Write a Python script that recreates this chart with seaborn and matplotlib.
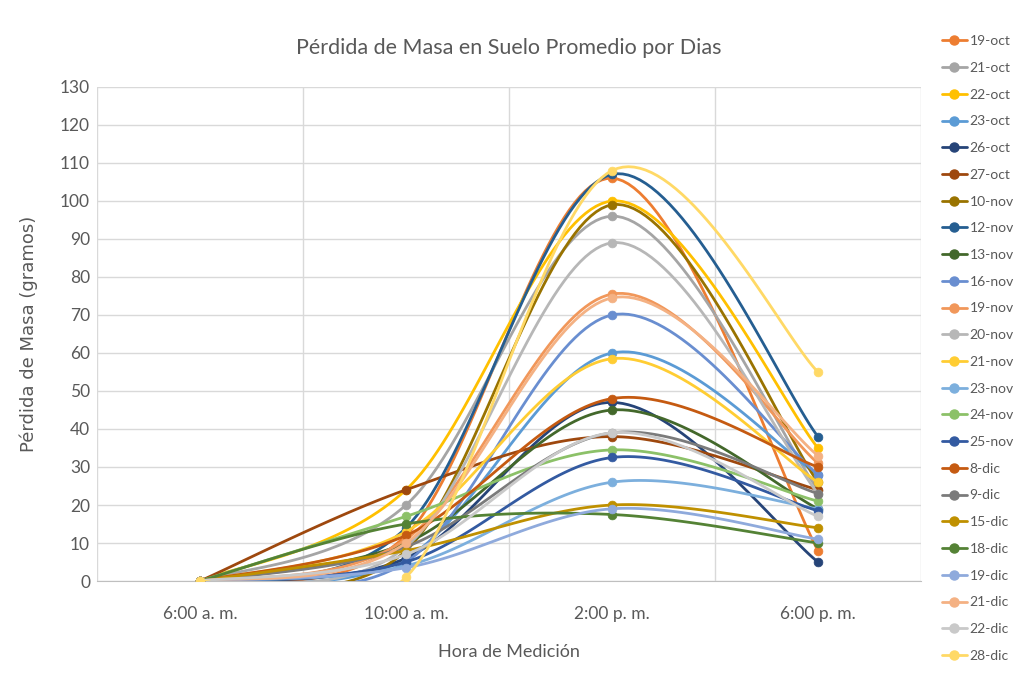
import numpy as np
import pandas as pd
import matplotlib
matplotlib.use("Agg")
import matplotlib.pyplot as plt
from matplotlib.lines import Line2D
import seaborn as sns

# Measurement times (categorical x axis)
horas = ["6:00 a. m.", "10:00 a. m.", "2:00 p. m.", "6:00 p. m."]

# Sampling days (series)
dias = ["19-oct", "21-oct", "22-oct", "23-oct", "26-oct", "27-oct", "10-nov",
        "12-nov", "13-nov", "16-nov", "19-nov", "20-nov", "21-nov", "23-nov",
        "24-nov", "25-nov", "8-dic", "9-dic", "15-dic", "18-dic", "19-dic",
        "21-dic", "22-dic", "28-dic"]

# Average mass loss (g) per day at each measurement time
perdida_19oct = [0, 12, 106, 8]
perdida_21oct = [0, 20, 96, 24]
perdida_22oct = [0, 24, 100, 35]
perdida_23oct = [0, 6, 60, 28]
perdida_26oct = [0, 6, 47, 5]
perdida_27oct = [0, 24, 38, 24]
perdida_10nov = [0, 8, 99, 26]
perdida_12nov = [0, 14, 107, 38]
perdida_13nov = [0, 10, 45, 19]
perdida_16nov = [0, 5, 70, 28]
perdida_19nov = [0, 11, 75.5, 31]
perdida_20nov = [0, 9, 89, 23]
perdida_21nov = [0, 13, 58.5, 26]
perdida_23nov = [0, 4, 26, 19]
perdida_24nov = [0, 17, 34.5, 21]
perdida_25nov = [0, 5, 32.5, 18.5]
perdida_8dic = [0, 12, 48, 30]
perdida_9dic = [0, 9, 39, 23]
perdida_15dic = [0, 8, 20, 14]
perdida_18dic = [0, 15, 17.5, 10]
perdida_19dic = [0, 3.5, 19, 11]
perdida_21dic = [0, 10, 74.5, 33]
perdida_22dic = [0, 7, 39, 17]
perdida_28dic = [0, 1, 108, 55]

valores = [perdida_19oct, perdida_21oct, perdida_22oct, perdida_23oct,
           perdida_26oct, perdida_27oct, perdida_10nov, perdida_12nov,
           perdida_13nov, perdida_16nov, perdida_19nov, perdida_20nov,
           perdida_21nov, perdida_23nov, perdida_24nov, perdida_25nov,
           perdida_8dic, perdida_9dic, perdida_15dic, perdida_18dic,
           perdida_19dic, perdida_21dic, perdida_22dic, perdida_28dic]

colores = ["#ED7D31", "#A5A5A5", "#FFC000", "#5B9BD5", "#264478", "#9E480E",
           "#997300", "#255E91", "#43682B", "#698ED0", "#F1975A", "#B7B7B7",
           "#FFCD33", "#7CAFDD", "#8CC168", "#335AA1", "#C55A11", "#7B7B7B",
           "#BF9000", "#548235", "#8FAADC", "#F4B183", "#C9C9C9", "#FFD966"]
paleta = dict(zip(dias, colores))

# Long-form table of the measurements
df = pd.DataFrame({
    "dia": np.repeat(dias, len(horas)),
    "x": np.tile(np.arange(len(horas)), len(dias)),
    "perdida": np.concatenate(valores),
})


def suavizar(xs, ys, n=40):
    """Smoothed (Catmull-Rom / Bezier) path through the points, like spreadsheet smoothed lines."""
    pts = np.column_stack([xs, ys]).astype(float)
    out = []
    for i in range(len(pts) - 1):
        p0 = pts[i - 1] if i > 0 else pts[i]
        p1, p2 = pts[i], pts[i + 1]
        p3 = pts[i + 2] if i + 2 < len(pts) else pts[i + 1]
        c1 = p1 + (p2 - p0) / 6.0
        c2 = p2 - (p3 - p1) / 6.0
        t = np.linspace(0, 1, n)[:, None]
        seg = ((1 - t) ** 3) * p1 + 3 * ((1 - t) ** 2) * t * c1 + 3 * (1 - t) * t ** 2 * c2 + t ** 3 * p2
        out.append(seg if i == 0 else seg[1:])
    return np.vstack(out)


sns.set_style("white")
plt.rcParams["font.family"] = ["Lato", "DejaVu Sans"]

fig = plt.figure(figsize=(10.18, 6.77), dpi=100)
ax = fig.add_axes([0.0953, 0.1418, 0.8094, 0.7297])

for z, (dia, grupo) in enumerate(df.groupby("dia", sort=False)):
    curva = suavizar(grupo["x"].values, grupo["perdida"].values)
    tramo = pd.DataFrame({"x": curva[:, 0], "y": curva[:, 1]})
    sns.lineplot(data=tramo, x="x", y="y", sort=False, estimator=None,
                 color=paleta[dia], linewidth=2.0, ax=ax, zorder=3 + z)
    sns.scatterplot(data=grupo, x="x", y="perdida", color=paleta[dia], s=40,
                    edgecolor=paleta[dia], linewidth=0.5, ax=ax, zorder=3 + z, legend=False)

ax.set_xlim(-0.5, len(horas) - 0.5)
ax.set_ylim(0, 130)
ax.set_yticks(np.arange(0, 131, 10))
ax.set_xticks(np.arange(len(horas)))
ax.set_xticklabels(horas)
ax.set_xticks(np.arange(-0.5, len(horas), 1.0), minor=True)

ax.grid(axis="y", which="major", color="#D9D9D9", linewidth=1.0, zorder=0)
ax.grid(axis="x", which="minor", color="#D9D9D9", linewidth=1.0, zorder=0)
ax.grid(axis="x", which="major", visible=False)
for lado in ["top", "right", "left"]:
    ax.spines[lado].set_visible(False)
ax.spines["bottom"].set_color("#BFBFBF")
ax.tick_params(axis="both", which="both", length=0, labelsize=12.5, colors="#595959")
ax.tick_params(axis="x", pad=18)
ax.tick_params(axis="y", pad=5)

ax.set_xlabel("Hora de Medición", fontsize=13, color="#595959", labelpad=16)
ax.set_ylabel("Pérdida de Masa (gramos)", fontsize=13, color="#595959", labelpad=16,
              family=["DejaVu Sans"])
ax.set_title("Pérdida de Masa en Suelo Promedio por Dias", fontsize=15.5, color="#595959", pad=24)

handles = [Line2D([0], [0], color=c, linewidth=2.0, marker="o", markersize=6.5) for c in colores]
fig.legend(handles, dias, loc="upper left", bbox_to_anchor=(0.925, 0.948), frameon=False,
           fontsize=10, labelcolor="#595959", handlelength=1.8, handletextpad=0.2,
           labelspacing=1.06, borderaxespad=0, borderpad=0)

fig.savefig("out.png", dpi=100, facecolor="white")
